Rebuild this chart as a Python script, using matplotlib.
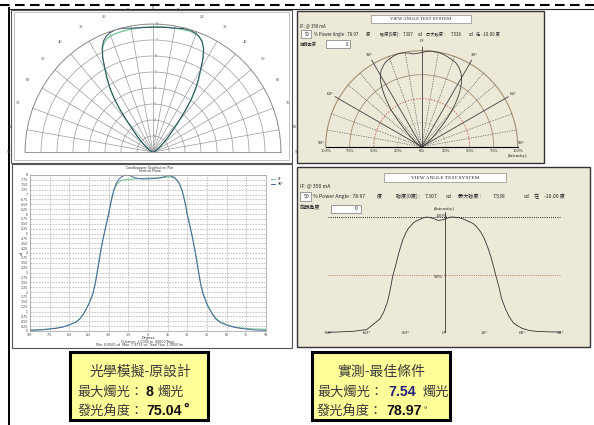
import numpy as np
import matplotlib
matplotlib.use("Agg")
import matplotlib.pyplot as plt
from matplotlib.patches import Rectangle

# ---------------- data ----------------
ang_sim = [-90, -80, -75, -70, -65, -60, -55, -52, -50, -48,
           -45, -42, -40, -38, -36, -34, -32, -30, -28, -26,
           -24, -22, -20, -17, -14, -10, -5, 0, 5, 10,
           14, 17, 20, 22, 24, 26, 28, 30, 32, 34,
           36, 38, 40, 42, 45, 48, 50, 52, 55, 60,
           65, 70, 75, 80, 90]
cd_blue = [0.03, 0.06, 0.10, 0.14, 0.20, 0.31, 0.45, 0.62, 0.80, 1.00,
           1.40, 1.90, 2.50, 3.30, 4.10, 4.80, 5.40, 6.00, 6.70, 7.25,
           7.60, 7.80, 7.92, 8.00, 7.97, 7.86, 7.80, 7.80, 7.82, 7.86,
           7.95, 7.96, 7.88, 7.75, 7.55, 7.20, 6.65, 5.95, 5.35, 4.75,
           4.05, 3.25, 2.45, 1.90, 1.35, 0.98, 0.78, 0.60, 0.44, 0.30,
           0.20, 0.14, 0.10, 0.06, 0.03]
cd_green = [0.06, 0.08, 0.11, 0.15, 0.21, 0.32, 0.47, 0.63, 0.82, 1.02,
            1.42, 1.95, 2.55, 3.35, 4.15, 4.85, 5.45, 6.05, 6.70, 7.20,
            7.50, 7.65, 7.72, 7.76, 7.78, 7.80, 7.82, 7.84, 7.85, 7.86,
            7.88, 7.90, 7.85, 7.74, 7.55, 7.22, 6.70, 6.00, 5.40, 4.80,
            4.10, 3.30, 2.50, 1.95, 1.40, 1.02, 0.82, 0.64, 0.48, 0.33,
            0.23, 0.17, 0.13, 0.11, 0.09]

ang_meas = [-90, -80, -70, -60, -55, -50, -47, -44, -42, -40,
            -38, -36, -34, -32, -30, -28, -26, -24, -22, -20,
            -17, -14, -11, -8, -5, -2, 0, 2, 5, 8,
            11, 14, 17, 20, 22, 24, 26, 28, 30, 32,
            34, 36, 38, 40, 42, 44, 47, 50, 53, 56,
            60, 65, 70, 80, 90]
pct_meas = [0.5, 1.0, 1.5, 3.0, 7.5, 12, 18, 27, 37, 49,
            57, 66, 74, 81, 86, 90, 92.5, 95, 96.5, 97.5,
            99, 100, 99.5, 98.5, 97, 97.5, 98, 99, 100, 99.8,
            99.5, 98.5, 97, 95.5, 94.5, 92.5, 90, 87, 83, 78,
            72, 65, 57, 48, 40, 30, 21, 14, 9, 6.5,
            4, 2.3, 1.5, 1.0, 0.8]

polar_rings = [1, 2, 3, 4, 5, 6, 7, 8]
polar_angles = list(range(-90, 91, 10))
lin_xticks = list(range(-90, 91, 15))
lin_yticks = [i * 0.25 for i in range(33)]
meas_xticks = [-90, -60, -30, 0, 30, 60, 90]
meas_rings = [25, 50, 75, 100]
meas_angle_labels = [-90, -60, -30, 0, 30, 60, 90]

W, H = 594, 425
fig = plt.figure(figsize=(W / 100, H / 100), dpi=100)
CJK = ["Noto Sans CJK TC", "DejaVu Sans"]
SERIF = "Liberation Serif"


def rect(x0, y0, x1, y1):
    return [x0 / W, 1 - y1 / H, (x1 - x0) / W, (y1 - y0) / H]


def half_polar_rect(cx, cy, R):
    # square box whose centred half-disk wedge has centre (cx, cy) and radius R
    return rect(cx - R, cy - 1.5 * R, cx + R, cy + 0.5 * R)


bg = fig.add_axes([0, 0, 1, 1])
bg.set_xlim(0, W)
bg.set_ylim(H, 0)
bg.axis("off")

# page decorations
bg.plot([0, W], [4.5, 4.5], color="k", lw=1.5, dashes=(4.6, 2.6), solid_capstyle="butt")
bg.plot([8, W], [8.5, 8.5], color="#222", lw=0.8)
bg.plot([8.5, 8.5], [8, H], color="k", lw=1.4)

# panels
bg.add_patch(Rectangle((11, 9.5), 281, 153.5, fc="white", ec="#555", lw=0.8))
bg.add_patch(Rectangle((14, 12), 275, 148, fc="none", ec="#aaa", lw=0.5))
bg.add_patch(Rectangle((297, 11), 247, 152, fc="#ECE9D8", ec="#333", lw=1.0))
bg.add_patch(Rectangle((12, 164), 280, 184, fc="white", ec="#555", lw=0.8))
bg.add_patch(Rectangle((297, 167), 293, 180, fc="#ECE9D8", ec="#333", lw=1.0))

# ---------- top-right screen texts ----------
tk = dict(family=CJK, fontsize=3.1, color="#222")
bg.add_patch(Rectangle((371, 15), 100, 8, fc="white", ec="#888", lw=0.5))
bg.text(421, 19.3, "VIEW ANGLE TEST SYSTEM", ha="center", va="center", family=SERIF, fontsize=3.4, color="#222")
bg.text(300, 25.5, "IF: @ 350 mA", va="center", **tk)
bg.add_patch(Rectangle((301, 30), 10, 8, fc="white", ec="#777", lw=0.5))
bg.text(310, 34, "50", ha="right", va="center", **tk)
row = [(314, "% Power Angle : 78.97"), (366, "度"), (380, "強度(0度) :"), (403, "7.307"),
       (418, "cd"), (426, "最大強度 :"), (451, "7.538"), (469, "cd"), (476, "在"), (482, "-10.00 度")]
for x, s in row:
    bg.text(x, 34, s, va="center", **tk)
bg.text(300, 44, "旋轉角度", va="center", **tk)
bg.add_patch(Rectangle((326, 40), 24, 8, fc="white", ec="#777", lw=0.5))
bg.text(348, 44, "0", ha="right", va="center", **tk)

# ---------- bottom-right screen texts ----------
bg.add_patch(Rectangle((384, 173), 122, 9, fc="white", ec="#888", lw=0.5))
bg.text(445, 177.6, "VIEW ANGLE TEST SYSTEM", ha="center", va="center", family=SERIF, fontsize=3.8, color="#222")
tk2 = dict(family=CJK, fontsize=3.7, color="#222")
bg.text(300, 186, "IF: @ 350 mA", va="center", **tk2)
bg.add_patch(Rectangle((300, 192), 11, 9, fc="white", ec="#777", lw=0.5))
bg.text(310, 196.5, "50", ha="right", va="center", **tk2)
row2 = [(313, "% Power Angle : 78.97"), (377, "度"), (396, "強度(0度) :"), (425, "7.307"),
        (446, "cd"), (458, "最大強度 :"), (493, "7.538"), (524, "cd"), (534, "在"), (544, "-10.00 度")]
for x, s in row2:
    bg.text(x, 196.5, s, va="center", **tk2)
bg.text(300, 208.5, "旋轉角度", va="center", **tk2)
bg.add_patch(Rectangle((331, 204.5), 30, 8, fc="white", ec="#777", lw=0.5))
bg.text(358, 208.5, "0", ha="right", va="center", **tk2)

# ---------- bottom-left chart titles / footers ----------
tiny = dict(family="DejaVu Sans", fontsize=2.3, color="#333", ha="center")
bg.text(150, 167.5, "Candlepower Distribution Plot", va="center", **tiny)
bg.text(150, 171.0, "Vertical Plane", va="center", **tiny)
bg.text(148, 338.5, "Degrees", va="center", **tiny)
bg.text(148, 342.0, "Distance: 1.0000 m  40000 Rays", va="center", **tiny)
bg.text(140, 345.5, "Min: 0.0000 cd  Max: 7.9731 cd  Total Flux: 1.0000 lm", va="center", **tiny)
bg.text(22, 253, "cd", va="center", ha="center", family="DejaVu Sans", fontsize=2.6, color="#333", rotation=90)

# ---------- yellow boxes ----------
for x0 in (70, 312):
    bg.add_patch(Rectangle((x0, 352), 138, 68, fc="#FFFF99", ec="k", lw=2.2))

cj = dict(family=CJK, fontsize=9.5, color="#3a3a3a", va="baseline")
cj1 = dict(cj, fontsize=10)
num = dict(family="Liberation Sans", fontsize=10.2, fontweight="bold", color="#111", va="baseline")
bg.text(140, 376, "光學模擬-原設計", ha="center", **cj1)
bg.text(77, 396, "最大燭光：", **cj)
bg.text(146, 396, "8", **num)
bg.text(158, 396, "燭光", **cj)
bg.text(78, 415, "發光角度：", **cj)
bg.text(146, 415, "75.04", **num)
bg.text(183, 413, "°", **num)

bg.text(381, 376, "實測-最佳條件", ha="center", **cj1)
bg.text(317, 396, "最大燭光：", **cj)
bg.text(388, 396, "7.54", **dict(num, color="#23237a"))
bg.text(423, 396, "燭光", **cj)
bg.text(317, 415, "發光角度：", **cj)
bg.text(386, 415, "78.97", **num)
bg.text(424, 412, "°", family="Liberation Sans", fontsize=6, color="#111", va="baseline")

# ---------- top-left polar (simulation) ----------
axp = fig.add_axes(half_polar_rect(153, 152, 128), projection="polar")
axp.set_theta_zero_location("N")
axp.set_theta_direction(-1)
axp.set_thetamin(-90)
axp.set_thetamax(90)
axp.set_ylim(0, 8)
axp.set_yticks(polar_rings)
axp.set_yticklabels([""] * len(polar_rings))
axp.set_thetagrids(polar_angles, labels=[str(abs(a)) for a in polar_angles],
                   fontsize=3.2, family=SERIF, color="#444")
axp.tick_params(axis="x", pad=1)
axp.grid(color="#9a9a9a", lw=0.5)
for sp in axp.spines.values():
    sp.set_color("#888")
    sp.set_linewidth(0.6)
axp.set_facecolor("none")
for r in polar_rings:
    axp.text(np.deg2rad(1.2), r, str(r), ha="left", va="center", fontsize=2.6,
             family=SERIF, color="#555")
axp.plot(np.deg2rad(ang_sim), cd_green, color="#6cc296", lw=0.9)
axp.plot(np.deg2rad(ang_sim), cd_blue, color="#2f4a5e", lw=0.7)

# ---------- top-right polar (measurement) ----------
axq = fig.add_axes(half_polar_rect(421.7, 146.7, 96), projection="polar")
axq.set_theta_zero_location("N")
axq.set_theta_direction(-1)
axq.set_thetamin(-90)
axq.set_thetamax(90)
axq.set_ylim(0, 100)
axq.grid(False)
axq.set_xticks([])
axq.set_yticks([])
for sp in axq.spines.values():
    sp.set_visible(False)
axq.set_facecolor("none")
th = np.linspace(-np.pi / 2, np.pi / 2, 300)
ring_style = {100: dict(color="#a48f72", lw=0.8, ls="-"),
              75: dict(color="#a48f72", lw=0.6, ls="-"),
              50: dict(color="#c46a5a", lw=0.6, ls=(0, (2, 1.5))),
              25: dict(color="#a48f72", lw=0.5, ls=(0, (1, 1.5)))}
for r in meas_rings:
    axq.plot(th, np.full_like(th, r), clip_on=False, **ring_style[r])
for a in range(-80, 81, 10):
    if a % 30 == 0:
        axq.plot([np.deg2rad(a)] * 2, [0, 104], color="#555", lw=0.7, clip_on=False)
    else:
        axq.plot([np.deg2rad(a)] * 2, [0, 100], color="#333", lw=0.5, ls=(0, (1, 1.5)), clip_on=False)
for a in meas_angle_labels:
    if abs(a) == 90:
        axq.annotate(f"{abs(a)}°", (np.deg2rad(a), 104), xytext=(0, 1), textcoords="offset points",
                     ha="center", va="bottom", family=SERIF, fontsize=3.6, color="#222", annotation_clip=False)
    else:
        axq.text(np.deg2rad(a), 110, f"{abs(a)}°", ha="center", va="center",
                 family=SERIF, fontsize=3.6, color="#222", clip_on=False)
for side in (-90, 90):
    for r in meas_rings:
        axq.annotate(f"{r}%", (np.deg2rad(side), r), xytext=(0, -1.5), textcoords="offset points",
                     ha="center", va="top", family=SERIF, fontsize=3.3, color="#222", annotation_clip=False)
axq.annotate("0%", (0, 0), xytext=(0, -1.5), textcoords="offset points",
             ha="center", va="top", family=SERIF, fontsize=3.3, color="#222", annotation_clip=False)
axq.annotate("(Intensity)", (np.deg2rad(90), 100), xytext=(0, -5.5), textcoords="offset points",
             ha="center", va="top", family=SERIF, fontsize=3.3, color="#222", annotation_clip=False)
axq.plot(np.deg2rad(ang_meas), pct_meas, color="#3a3a3a", lw=0.6, clip_on=False)

# ---------- bottom-left linear (simulation) ----------
axl = fig.add_axes(rect(30, 175, 266, 331))
axl.plot(ang_sim, cd_green, color="#7cc898", lw=0.8, label="0°")
axl.plot(ang_sim, cd_blue, color="#4a66a0", lw=0.7, label="90°")
axl.set_xlim(-90, 90)
axl.set_ylim(0, 8)
axl.set_xticks(lin_xticks)
axl.set_xticklabels([str(t) for t in lin_xticks])
axl.set_yticks(lin_yticks)
axl.set_yticklabels([str(int(v)) if float(v).is_integer() else f"{v:.2f}" for v in lin_yticks])
axl.tick_params(length=0, labelsize=2.3, pad=1.5, colors="#444")
axl.grid(ls=(0, (3, 2)), color="#9a9a9a", lw=0.4)
for sp in axl.spines.values():
    sp.set_color("#999")
    sp.set_linewidth(0.5)
axl.legend(loc="upper left", bbox_to_anchor=(1.01, 1.0), fontsize=2.3, frameon=False,
           handlelength=1.5, borderpad=0.2, labelspacing=0.2)

# ---------- bottom-right linear (measurement) ----------
axr = fig.add_axes(rect(328, 205.4, 561, 333))
axr.set_xlim(-90, 90)
axr.set_ylim(0, 110)
axr.axis("off")
axr.axhline(100, color="#222", lw=0.7, ls=(0, (1, 1.2)))
axr.axhline(50, color="#c08060", lw=0.7, ls=(0, (1, 1.2)))
axr.axhline(0, color="#444", lw=0.7)
axr.plot([0, 0], [0, 104], color="#333", lw=0.6)
axr.plot(ang_meas, pct_meas, color="#333", lw=0.6)
for t in meas_xticks:
    axr.text(t, 0, f"{t}°", ha="center", va="center", family=SERIF, style="italic",
             fontsize=3.8, color="#222", clip_on=False)
axr.text(0, 107, "(Intensity)", ha="center", va="center", family=SERIF, fontsize=3.6, color="#222")
axr.text(-2, 100.5, "100%", ha="center", va="center", family=SERIF, fontsize=3.6, color="#222")
axr.text(-5, 48.5, "50%", ha="center", va="center", family=SERIF, fontsize=3.6, color="#222")

fig.savefig("out.png", dpi=100)
